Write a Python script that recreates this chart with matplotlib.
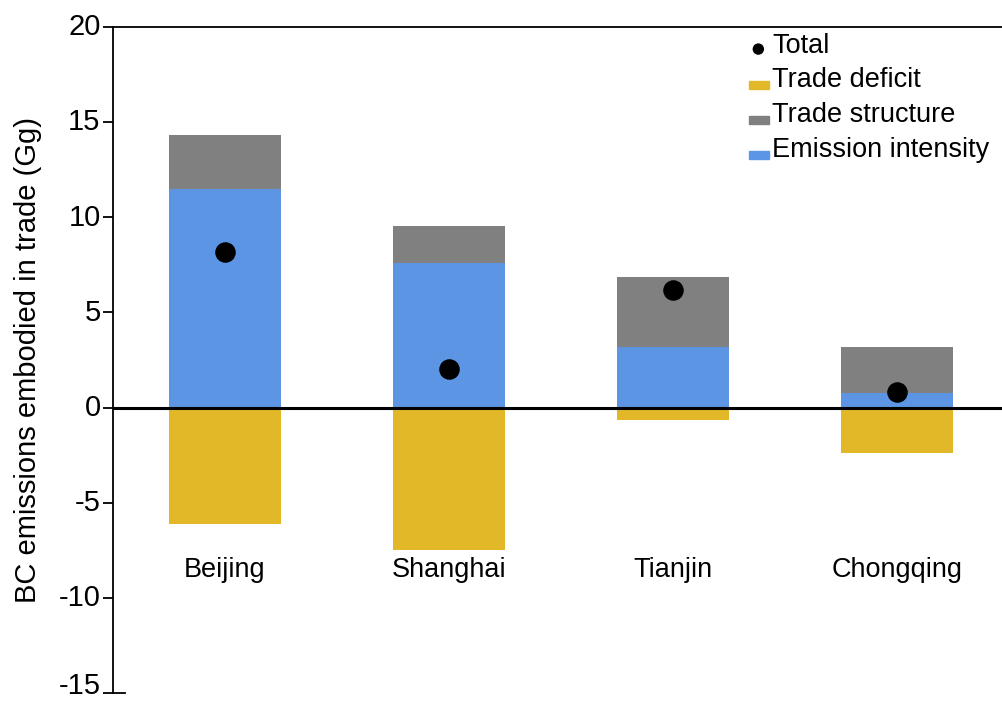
import matplotlib.pyplot as plt
from matplotlib.patches import Rectangle, Circle
from matplotlib.legend_handler import HandlerPatch
from matplotlib.transforms import ScaledTranslation
import numpy as np

plt.rcParams['font.family'] = ['Liberation Sans', 'DejaVu Sans']
plt.rcParams['axes.unicode_minus'] = False

cities = ["Beijing", "Shanghai", "Tianjin", "Chongqing"]
intensity = [11.47, 7.58, 3.16, 0.79]
structure = [2.83, 1.95, 3.68, 2.41]
deficit = [-6.10, -7.50, -0.63, -2.37]
total = [8.20, 2.05, 6.20, 0.84]

c_int = "#5b95e3"
c_str = "#808080"
c_def = "#e3b828"

x = np.arange(len(cities))

fig = plt.figure(figsize=(10.03, 7.01), dpi=100)
ax = fig.add_axes([0.1127, 0.0114, 0.8873, 0.9501])

w = 0.5
ax.bar(x, intensity, w, color=c_int, label="Emission intensity")
ax.bar(x, structure, w, bottom=intensity, color=c_str, label="Trade structure")
ax.bar(x, deficit, w, color=c_def, label="Trade deficit")
ax.axhline(0, color="black", lw=2.2, zorder=3)
ax.scatter(x, total, s=190, color="black", zorder=4, label="Total")

for i, name in enumerate(cities):
    ax.text(x[i], -8.55, name, ha="center", va="center", fontsize=19.5)

ax.set_xlim(-0.5, 3.473)
ax.set_ylim(-15, 20)
ax.set_yticks(np.arange(-15, 21, 5))
ax.set_xticks([])
ax.tick_params(axis="y", labelsize=21, length=7, width=1.3, pad=2)
ax.set_ylabel("BC emissions embodied in trade (Gg)", fontsize=21, labelpad=12)

# tick labels sit a touch high; the lowest one more so it stays inside the figure
labels = ax.get_yticklabels()
for k, lab in enumerate(labels):
    dy = 7 if k == 0 else 2
    lab.set_transform(lab.get_transform() + ScaledTranslation(0, dy / 72, fig.dpi_scale_trans))

ax.spines["right"].set_visible(False)
for s in ["left", "top", "bottom"]:
    ax.spines[s].set_linewidth(1.3)
ax.spines["bottom"].set_bounds(-0.5, -0.445)


def low_rect(legend, orig_handle, xdescent, ydescent, width, height, fontsize):
    return Rectangle((-xdescent, -ydescent - 1), width, height * 0.4)


def low_dot(legend, orig_handle, xdescent, ydescent, width, height, fontsize):
    return Circle((-xdescent + width * 0.45, -ydescent + 2.5), 3.6)


h_dot = Circle((0, 0), 1, color="black")
h_def = Rectangle((0, 0), 1, 1, color=c_def)
h_str = Rectangle((0, 0), 1, 1, color=c_str)
h_int = Rectangle((0, 0), 1, 1, color=c_int)

ax.legend([h_dot, h_def, h_str, h_int],
          ["Total", "Trade deficit", "Trade structure", "Emission intensity"],
          loc="upper right", bbox_to_anchor=(1.0, 1.012), frameon=False,
          fontsize=19.5, handlelength=0.75, handleheight=0.7, handletextpad=0.1,
          labelspacing=0.33, borderaxespad=0.1,
          handler_map={h_dot: HandlerPatch(patch_func=low_dot),
                       h_def: HandlerPatch(patch_func=low_rect),
                       h_str: HandlerPatch(patch_func=low_rect),
                       h_int: HandlerPatch(patch_func=low_rect)})

fig.savefig("out.png", dpi=100)
